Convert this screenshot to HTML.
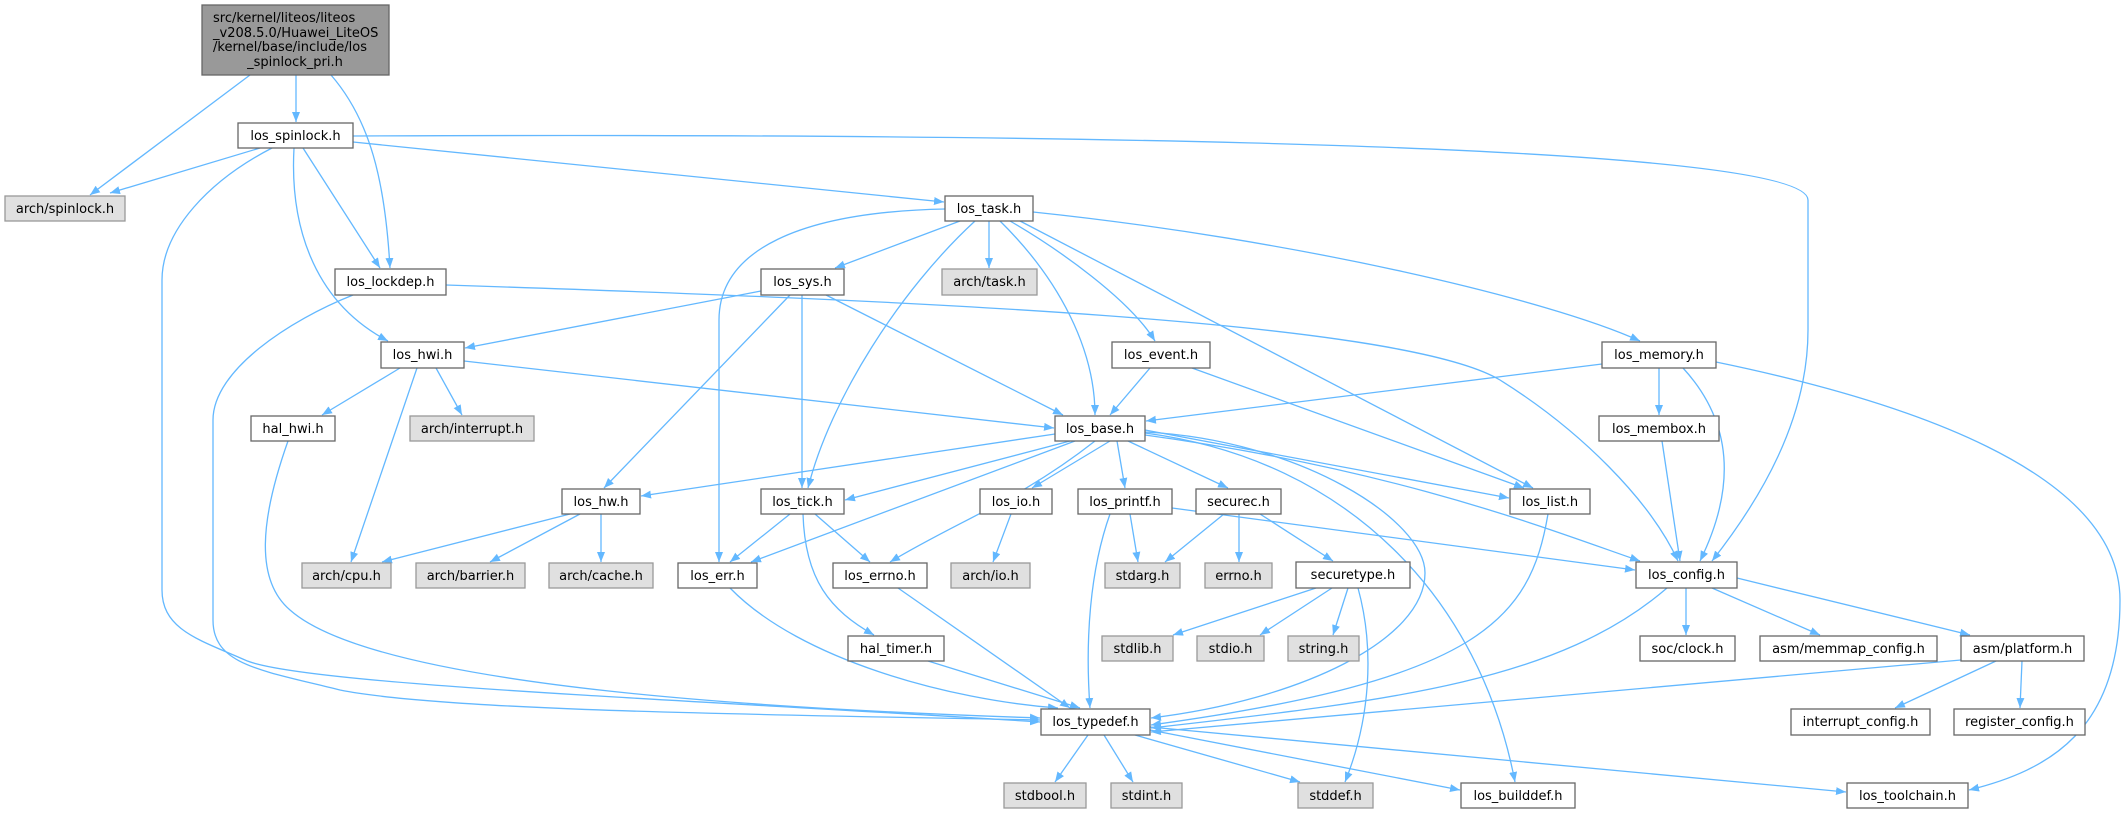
<!DOCTYPE html>
<html><head><meta charset="utf-8"><style>
html,body{margin:0;padding:0;background:#fff;}
svg{display:block;}
text{font-family:"DejaVu Sans","Liberation Sans",sans-serif;font-size:13px;fill:#000;}
.e{fill:none;stroke:#63b8ff;stroke-width:1.3;marker-end:url(#a);}
.w{fill:#fff;stroke:#666;stroke-width:1.3;}
.g{fill:#e0e0e0;stroke:#999;stroke-width:1.3;}
</style></head><body>
<svg width="2125" height="813" viewBox="0 0 2125 813" xmlns="http://www.w3.org/2000/svg">
<defs><marker id="a" markerUnits="userSpaceOnUse" markerWidth="11" markerHeight="9" refX="10" refY="4" orient="auto"><path d="M0,0 L10,4 L0,8 z" fill="#63b8ff"/></marker></defs>
<g>
<path class="e" d="M250,75 L90,195"/>
<path class="e" d="M296,75 L296,122"/>
<path class="e" d="M331,75 C370,120 385,180 390,268"/>
<path class="e" d="M260,148 L110,193"/>
<path class="e" d="M272,148 C210,180 162,230 162,280 L162,590 C162,630 200,640 245,660 C300,685 700,700 1040,722"/>
<path class="e" d="M294,148 C290,220 310,300 388,341"/>
<path class="e" d="M303,148 L380,268"/>
<path class="e" d="M353,142 L944,202"/>
<path class="e" d="M353,136 C800,134 1808,135 1808,200 L1808,330 C1808,420 1760,500 1712,561"/>
<path class="e" d="M353,295 C290,320 213,370 213,420 L213,620 C213,665 260,670 340,690 C450,712 800,715 1040,720"/>
<path class="e" d="M446,285 C900,300 1400,320 1500,380 C1580,430 1650,500 1678,561"/>
<path class="e" d="M945,209 C800,212 719,250 719,320 L719,562"/>
<path class="e" d="M960,221 L835,268"/>
<path class="e" d="M975,221 C900,290 830,400 808,488"/>
<path class="e" d="M989,221 L989,268"/>
<path class="e" d="M1000,221 C1060,280 1095,350 1095,415"/>
<path class="e" d="M1010,221 C1060,250 1130,300 1155,341"/>
<path class="e" d="M1020,221 L1533,488"/>
<path class="e" d="M1033,212 C1300,240 1550,300 1640,341"/>
<path class="e" d="M761,291 L465,348"/>
<path class="e" d="M790,295 L604,488"/>
<path class="e" d="M802,295 L802,488"/>
<path class="e" d="M826,295 L1063,415"/>
<path class="e" d="M400,368 L322,415"/>
<path class="e" d="M436,368 L462,415"/>
<path class="e" d="M417,368 L351,562"/>
<path class="e" d="M464,361 L1054,428"/>
<path class="e" d="M288,441 C260,520 255,580 290,610 C380,690 800,710 1040,718"/>
<path class="e" d="M1150,368 L1110,415"/>
<path class="e" d="M1192,368 L1524,488"/>
<path class="e" d="M1602,364 L1146,421"/>
<path class="e" d="M1659,368 L1659,415"/>
<path class="e" d="M1683,368 C1740,430 1730,500 1700,561"/>
<path class="e" d="M1716,362 C1900,400 2120,470 2120,600 C2120,730 2050,770 1969,790"/>
<path class="e" d="M1662,441 L1680,561"/>
<path class="e" d="M1055,434 L641,496"/>
<path class="e" d="M1070,441 L845,500"/>
<path class="e" d="M1075,441 L751,562"/>
<path class="e" d="M1095,441 C1020,500 960,520 890,562"/>
<path class="e" d="M1110,441 L1032,488"/>
<path class="e" d="M1117,441 L1125,488"/>
<path class="e" d="M1128,441 L1228,488"/>
<path class="e" d="M1145,430 L1509,498"/>
<path class="e" d="M1145,435 C1400,470 1550,530 1640,561"/>
<path class="e" d="M1145,432 C1300,440 1425,520 1425,573 C1425,640 1300,700 1151,718"/>
<path class="e" d="M1145,433 C1350,460 1480,600 1515,782"/>
<path class="e" d="M570,514 L382,562"/>
<path class="e" d="M580,514 L490,562"/>
<path class="e" d="M601,514 L601,562"/>
<path class="e" d="M790,514 L730,562"/>
<path class="e" d="M815,514 L870,562"/>
<path class="e" d="M803,514 C805,580 830,610 874,635"/>
<path class="e" d="M1011,514 L993,562"/>
<path class="e" d="M1130,514 L1138,562"/>
<path class="e" d="M1110,514 C1090,570 1085,640 1090,708"/>
<path class="e" d="M1172,508 L1635,570"/>
<path class="e" d="M1224,514 L1165,562"/>
<path class="e" d="M1239,514 L1239,562"/>
<path class="e" d="M1260,514 L1333,561"/>
<path class="e" d="M1316,588 L1173,635"/>
<path class="e" d="M1332,588 L1260,635"/>
<path class="e" d="M1348,588 L1333,635"/>
<path class="e" d="M1358,588 C1375,650 1370,720 1345,782"/>
<path class="e" d="M730,588 C800,660 950,700 1058,708"/>
<path class="e" d="M898,588 L1070,708"/>
<path class="e" d="M928,661 L1080,708"/>
<path class="e" d="M1548,514 C1530,620 1480,680 1151,725"/>
<path class="e" d="M1667,588 C1560,680 1400,700 1151,728"/>
<path class="e" d="M1686,588 L1686,635"/>
<path class="e" d="M1712,588 L1820,635"/>
<path class="e" d="M1737,578 L1970,635"/>
<path class="e" d="M1961,660 L1151,732"/>
<path class="e" d="M1996,661 L1895,708"/>
<path class="e" d="M2022,661 L2020,708"/>
<path class="e" d="M1088,735 L1055,782"/>
<path class="e" d="M1104,735 L1133,782"/>
<path class="e" d="M1135,735 L1300,782"/>
<path class="e" d="M1150,730 L1460,790"/>
<path class="e" d="M1150,727 L1846,792"/>
</g>
<g>
<rect x="202" y="5" width="187" height="70" fill="#999" stroke="#666" stroke-width="1.3"/>
<text x="213" y="22">src/kernel/liteos/liteos</text>
<text x="213" y="37">_v208.5.0/Huawei_LiteOS</text>
<text x="213" y="51">/kernel/base/include/los</text>
<text x="295" y="66" text-anchor="middle">_spinlock_pri.h</text>
</g>
<g text-anchor="middle">
<rect class="w" x="238" y="123" width="115" height="25"/><text x="295.5" y="140">los_spinlock.h</text>
<rect class="g" x="5" y="196" width="120" height="25"/><text x="65" y="213">arch/spinlock.h</text>
<rect class="w" x="335" y="269" width="111" height="26"/><text x="390.5" y="286">los_lockdep.h</text>
<rect class="w" x="381" y="342" width="83" height="26"/><text x="422.5" y="359">los_hwi.h</text>
<rect class="w" x="251" y="416" width="84" height="25"/><text x="293" y="433">hal_hwi.h</text>
<rect class="g" x="410" y="416" width="124" height="25"/><text x="472" y="433">arch/interrupt.h</text>
<rect class="g" x="302" y="563" width="89" height="25"/><text x="346.5" y="580">arch/cpu.h</text>
<rect class="g" x="416" y="563" width="109" height="25"/><text x="470.5" y="580">arch/barrier.h</text>
<rect class="g" x="549" y="563" width="104" height="25"/><text x="601" y="580">arch/cache.h</text>
<rect class="w" x="945" y="196" width="88" height="25"/><text x="989" y="213">los_task.h</text>
<rect class="w" x="761" y="269" width="83" height="26"/><text x="802.5" y="286">los_sys.h</text>
<rect class="g" x="942" y="269" width="95" height="26"/><text x="989.5" y="286">arch/task.h</text>
<rect class="w" x="1112" y="342" width="98" height="26"/><text x="1161" y="359">los_event.h</text>
<rect class="w" x="1602" y="342" width="114" height="26"/><text x="1659" y="359">los_memory.h</text>
<rect class="w" x="1055" y="416" width="90" height="25"/><text x="1100" y="433">los_base.h</text>
<rect class="w" x="1599" y="416" width="120" height="25"/><text x="1659" y="433">los_membox.h</text>
<rect class="w" x="562" y="489" width="78" height="25"/><text x="601" y="506">los_hw.h</text>
<rect class="w" x="761" y="489" width="83" height="25"/><text x="802.5" y="506">los_tick.h</text>
<rect class="w" x="980" y="489" width="72" height="25"/><text x="1016" y="506">los_io.h</text>
<rect class="w" x="1078" y="489" width="94" height="25"/><text x="1125" y="506">los_printf.h</text>
<rect class="w" x="1196" y="489" width="85" height="25"/><text x="1238.5" y="506">securec.h</text>
<rect class="w" x="1510" y="489" width="80" height="25"/><text x="1550" y="506">los_list.h</text>
<rect class="w" x="678" y="563" width="79" height="25"/><text x="717.5" y="580">los_err.h</text>
<rect class="w" x="833" y="563" width="94" height="25"/><text x="880" y="580">los_errno.h</text>
<rect class="g" x="951" y="563" width="79" height="25"/><text x="990.5" y="580">arch/io.h</text>
<rect class="g" x="1105" y="563" width="75" height="25"/><text x="1142.5" y="580">stdarg.h</text>
<rect class="g" x="1205" y="563" width="67" height="25"/><text x="1238.5" y="580">errno.h</text>
<rect class="w" x="1296" y="562" width="114" height="26"/><text x="1353" y="579">securetype.h</text>
<rect class="w" x="1636" y="562" width="101" height="26"/><text x="1686.5" y="579">los_config.h</text>
<rect class="w" x="848" y="636" width="96" height="25"/><text x="896" y="653">hal_timer.h</text>
<rect class="g" x="1102" y="636" width="71" height="25"/><text x="1137.5" y="653">stdlib.h</text>
<rect class="g" x="1197" y="636" width="67" height="25"/><text x="1230.5" y="653">stdio.h</text>
<rect class="g" x="1288" y="636" width="71" height="25"/><text x="1323.5" y="653">string.h</text>
<rect class="w" x="1640" y="636" width="95" height="25"/><text x="1687.5" y="653">soc/clock.h</text>
<rect class="w" x="1760" y="636" width="177" height="25"/><text x="1848.5" y="653">asm/memmap_config.h</text>
<rect class="w" x="1961" y="636" width="123" height="25"/><text x="2022.5" y="653">asm/platform.h</text>
<rect class="w" x="1041" y="709" width="109" height="26"/><text x="1095.5" y="726">los_typedef.h</text>
<rect class="w" x="1791" y="709" width="139" height="26"/><text x="1860.5" y="726">interrupt_config.h</text>
<rect class="w" x="1954" y="709" width="131" height="26"/><text x="2019.5" y="726">register_config.h</text>
<rect class="g" x="1004" y="783" width="82" height="25"/><text x="1045" y="800">stdbool.h</text>
<rect class="g" x="1111" y="783" width="71" height="25"/><text x="1146.5" y="800">stdint.h</text>
<rect class="g" x="1298" y="783" width="75" height="25"/><text x="1335.5" y="800">stddef.h</text>
<rect class="w" x="1461" y="783" width="114" height="25"/><text x="1518" y="800">los_builddef.h</text>
<rect class="w" x="1847" y="783" width="121" height="25"/><text x="1907.5" y="800">los_toolchain.h</text>
</g>
</svg>
</body></html>
